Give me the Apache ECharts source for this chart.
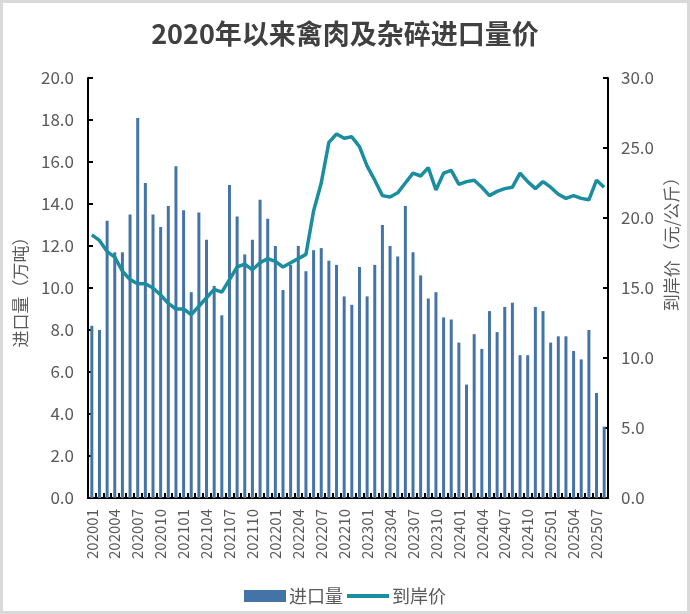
<!DOCTYPE html>
<html>
<head>
<meta charset="utf-8">
<script src="https://cdn.jsdelivr.net/npm/echarts@6/dist/echarts.min.js"></script>
<style>
html,body{margin:0;padding:0;background:#fff;}
#c{width:690px;height:614px;position:relative;}
#frame{position:absolute;left:0;top:0;width:690px;height:614px;box-sizing:border-box;border:3px solid #d9d9d9;pointer-events:none;}
</style>
</head>
<body>
<div id="c"></div>
<div id="frame"></div>
<script>
var months = [];
for (var y = 2020; y <= 2025; y++) {
  for (var m = 1; m <= 12; m++) {
    if (y === 2025 && m > 8) break;
    months.push(String(y) + (m < 10 ? '0' + m : String(m)));
  }
}
var importVolume = [
  8.2, 8.0, 13.2, 11.7, 11.7, 13.5, 18.1, 15.0, 13.5, 12.9, 13.9, 15.8,
  13.7, 9.8, 13.6, 12.3, 10.1, 8.7, 14.9, 13.4, 11.6, 12.3, 14.2, 13.3,
  12.0, 9.9, 11.1, 12.0, 10.8, 11.8, 11.9, 11.3, 11.1, 9.6, 9.2, 11.0,
  9.6, 11.1, 13.0, 12.0, 11.5, 13.9, 11.7, 10.6, 9.5, 9.8, 8.6, 8.5,
  7.4, 5.4, 7.8, 7.1, 8.9, 7.9, 9.1, 9.3, 6.8, 6.8, 9.1, 8.9,
  7.4, 7.7, 7.7, 7.0, 6.6, 8.0, 5.0, 3.4
];
var landedPrice = [
  18.8, 18.4, 17.6, 17.2, 16.2, 15.6, 15.3, 15.3, 15.0, 14.5, 13.9, 13.5,
  13.5, 13.1, 13.7, 14.3, 14.9, 14.7, 15.6, 16.5, 16.7, 16.3, 16.8, 17.1,
  16.9, 16.5, 16.8, 17.1, 17.4, 20.5, 22.5, 25.4, 26.0, 25.7, 25.8, 25.1,
  23.7, 22.7, 21.6, 21.5, 21.8, 22.5, 23.2, 23.0, 23.6, 22.0, 23.2, 23.4,
  22.4, 22.6, 22.7, 22.2, 21.6, 21.9, 22.1, 22.2, 23.2, 22.6, 22.1, 22.6,
  22.2, 21.7, 21.4, 21.6, 21.4, 21.3, 22.7, 22.2
];
var leftTicks = { min: 0, max: 20, interval: 2 };
var rightTicks = { min: 0, max: 30, interval: 5 };
var titleText = '2020年以来禽肉及杂碎进口量价';
var leftName = '进口量（万吨）';
var rightName = '到岸价（元/公斤）';

var chart = echarts.init(document.getElementById('c'), null, { renderer: 'canvas' });
var font = '"Noto Sans CJK SC", "Noto Sans", sans-serif';
var axisLineStyle = { color: '#000', width: 2 };
var barColor = '#4473a8';
var lineColor = '#1a8d9f';
chart.setOption({
  animation: false,
  backgroundColor: '#fff',
  textStyle: { fontFamily: font },
  title: {
    text: titleText,
    left: 'center',
    top: 15,
    textStyle: { fontSize: 27, fontWeight: 'bold', color: '#404040', fontFamily: font }
  },
  legend: {
    top: 582,
    left: 'center',
    itemGap: 4,
    itemWidth: 42,
    itemHeight: 12,
    textStyle: { fontSize: 18, color: '#595959', fontFamily: font, padding: [0, 0, 0, -2] },
    data: [
      { name: '进口量', icon: 'rect' },
      { name: '到岸价', icon: 'path://M0,0 H44 V4 H0 Z' }
    ]
  },
  grid: { left: 88, right: 82, top: 78, bottom: 116, containLabel: false },
  xAxis: {
    type: 'category',
    data: months,
    boundaryGap: true,
    axisLine: { lineStyle: axisLineStyle },
    axisTick: { show: true, inside: true, length: 5, interval: 0, lineStyle: { color: '#000', width: 2 } },
    axisLabel: { interval: 2, rotate: 90, fontSize: 15, color: '#595959', margin: 11, fontFamily: font },
    splitLine: { show: false }
  },
  yAxis: [
    {
      type: 'value',
      min: leftTicks.min, max: leftTicks.max, interval: leftTicks.interval,
      name: leftName,
      nameLocation: 'middle',
      nameGap: 59,
      nameRotate: 90,
      nameTextStyle: { fontSize: 17, color: '#595959', fontFamily: font },
      axisLine: { show: true, lineStyle: axisLineStyle },
      axisTick: { show: true, inside: true, length: 5, lineStyle: { color: '#000', width: 2 } },
      axisLabel: { fontSize: 17, color: '#595959', margin: 14, formatter: function (v) { return v.toFixed(1); } },
      splitLine: { show: false }
    },
    {
      type: 'value',
      min: rightTicks.min, max: rightTicks.max, interval: rightTicks.interval,
      axisLine: { show: true, lineStyle: axisLineStyle },
      axisTick: { show: true, inside: true, length: 5, lineStyle: { color: '#000', width: 2 } },
      axisLabel: { fontSize: 17, color: '#595959', margin: 13, formatter: function (v) { return v.toFixed(1); } },
      splitLine: { show: false }
    }
  ],
  graphic: [
    {
      type: 'text',
      x: 672,
      y: 240,
      rotation: Math.PI / 2,
      style: {
        text: rightName,
        fontSize: 17,
        fontFamily: font,
        fill: '#595959',
        align: 'center',
        verticalAlign: 'middle'
      }
    }
  ],
  series: [
    {
      name: '进口量',
      type: 'bar',
      yAxisIndex: 0,
      data: importVolume,
      barWidth: 3,
      itemStyle: { color: barColor }
    },
    {
      name: '到岸价',
      type: 'line',
      yAxisIndex: 1,
      data: landedPrice,
      symbol: 'none',
      smooth: false,
      lineStyle: { color: lineColor, width: 3.5 },
      itemStyle: { color: lineColor }
    }
  ]
});
</script>
</body>
</html>
